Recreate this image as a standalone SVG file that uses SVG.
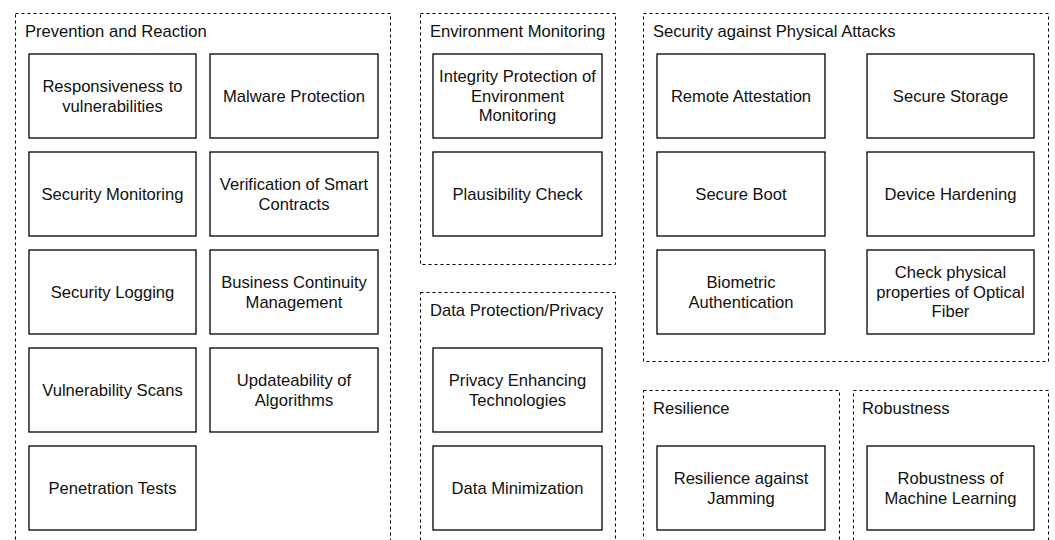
<svg xmlns="http://www.w3.org/2000/svg" width="1055" height="540" viewBox="0 0 1055 540">
<style>
.grp{fill:none;stroke:#000;stroke-width:1;stroke-dasharray:3 3}
.nd{fill:#fff;stroke:#000;stroke-width:1.3}
text{font-family:"Liberation Sans",Arial,sans-serif;font-size:16.6px;fill:#111}
.c{text-anchor:middle}
</style>
<rect width="1055" height="540" fill="#fff"/>
<g id="groups">
<g id="g-prevention"><rect class="grp" x="15.5" y="13.5" width="375" height="560"/><text x="25" y="37">Prevention and Reaction</text></g>
<g id="g-environment"><rect class="grp" x="420.5" y="13.5" width="195" height="251"/><text x="430" y="37">Environment Monitoring</text></g>
<g id="g-dataprot"><rect class="grp" x="420.5" y="292.5" width="195" height="280"/><text x="430" y="316">Data Protection/Privacy</text></g>
<g id="g-physical"><rect class="grp" x="643.5" y="13.5" width="405" height="348"/><text x="653" y="37">Security against Physical Attacks</text></g>
<g id="g-resilience"><rect class="grp" x="643.5" y="390.5" width="196" height="180"/><text x="653" y="414">Resilience</text></g>
<g id="g-robustness"><rect class="grp" x="853.5" y="390.5" width="195" height="180"/><text x="862" y="414">Robustness</text></g>
</g>
<g id="n1"><rect class="nd" x="29" y="54" width="167" height="84"/><text class="c" x="112.5" y="91.7">Responsiveness to</text><text class="c" x="112.5" y="111.7">vulnerabilities</text></g>
<g id="n2"><rect class="nd" x="210" y="54" width="168" height="84"/><text class="c" x="294" y="101.7">Malware Protection</text></g>
<g id="n3"><rect class="nd" x="29" y="152" width="167" height="84"/><text class="c" x="112.5" y="199.7">Security Monitoring</text></g>
<g id="n4"><rect class="nd" x="210" y="152" width="168" height="84"/><text class="c" x="294" y="189.7">Verification of Smart</text><text class="c" x="294" y="209.7">Contracts</text></g>
<g id="n5"><rect class="nd" x="29" y="250" width="167" height="84"/><text class="c" x="112.5" y="297.7">Security Logging</text></g>
<g id="n6"><rect class="nd" x="210" y="250" width="168" height="84"/><text class="c" x="294" y="287.7">Business Continuity</text><text class="c" x="294" y="307.7">Management</text></g>
<g id="n7"><rect class="nd" x="29" y="348" width="167" height="84"/><text class="c" x="112.5" y="395.7">Vulnerability Scans</text></g>
<g id="n8"><rect class="nd" x="210" y="348" width="168" height="84"/><text class="c" x="294" y="385.7">Updateability of</text><text class="c" x="294" y="405.7">Algorithms</text></g>
<g id="n9"><rect class="nd" x="29" y="446" width="167" height="84"/><text class="c" x="112.5" y="493.7">Penetration Tests</text></g>
<g id="n10"><rect class="nd" x="433" y="54" width="169" height="84"/><text class="c" x="517.5" y="82">Integrity Protection of</text><text class="c" x="517.5" y="101.7">Environment</text><text class="c" x="517.5" y="121.4">Monitoring</text></g>
<g id="n11"><rect class="nd" x="433" y="152" width="169" height="84"/><text class="c" x="517.5" y="199.7">Plausibility Check</text></g>
<g id="n12"><rect class="nd" x="433" y="348" width="169" height="84"/><text class="c" x="517.5" y="385.7">Privacy Enhancing</text><text class="c" x="517.5" y="405.7">Technologies</text></g>
<g id="n13"><rect class="nd" x="433" y="446" width="169" height="84"/><text class="c" x="517.5" y="493.7">Data Minimization</text></g>
<g id="n14"><rect class="nd" x="657" y="54" width="168" height="84"/><text class="c" x="741" y="101.7">Remote Attestation</text></g>
<g id="n15"><rect class="nd" x="867" y="54" width="167" height="84"/><text class="c" x="950.5" y="101.7">Secure Storage</text></g>
<g id="n16"><rect class="nd" x="657" y="152" width="168" height="84"/><text class="c" x="741" y="199.7">Secure Boot</text></g>
<g id="n17"><rect class="nd" x="867" y="152" width="167" height="84"/><text class="c" x="950.5" y="199.7">Device Hardening</text></g>
<g id="n18"><rect class="nd" x="657" y="250" width="168" height="84"/><text class="c" x="741" y="287.7">Biometric</text><text class="c" x="741" y="307.7">Authentication</text></g>
<g id="n19"><rect class="nd" x="867" y="250" width="167" height="84"/><text class="c" x="950.5" y="278">Check physical</text><text class="c" x="950.5" y="297.7">properties of Optical</text><text class="c" x="950.5" y="317.4">Fiber</text></g>
<g id="n20"><rect class="nd" x="657" y="446" width="168" height="84"/><text class="c" x="741" y="483.7">Resilience against</text><text class="c" x="741" y="503.7">Jamming</text></g>
<g id="n21"><rect class="nd" x="867" y="446" width="167" height="84"/><text class="c" x="950.5" y="483.7">Robustness of</text><text class="c" x="950.5" y="503.7">Machine Learning</text></g>
<g id="connectors"></g>
</svg>
